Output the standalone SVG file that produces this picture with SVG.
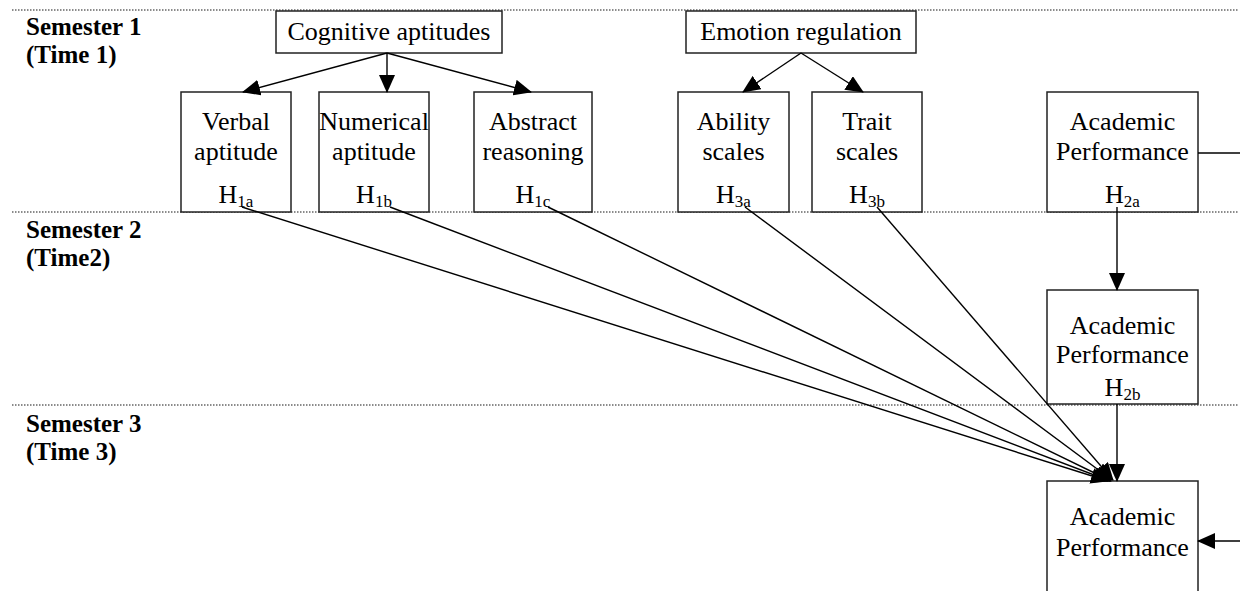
<svg xmlns="http://www.w3.org/2000/svg" width="1240" height="591" viewBox="0 0 1240 591">
<style>
.bg{fill:#fff}
.box{fill:#fff;stroke:#222;stroke-width:1.5}
.t{font-family:"Liberation Serif","Times New Roman",serif;font-size:26px;fill:#000;text-anchor:middle}
.sub{font-size:17px}
.lab{font-family:"Liberation Serif","Times New Roman",serif;font-size:25px;font-weight:bold;fill:#000}
.dot{stroke:#666;stroke-width:1.5;stroke-dasharray:1.5 1.5;fill:none}
.c{stroke:#000;stroke-width:1.4;fill:none}
</style>
<defs>
<marker id="ah" markerUnits="userSpaceOnUse" markerWidth="18" markerHeight="16" viewBox="0 0 18 16" refX="17" refY="8" orient="auto">
<path d="M0,0 L18,8 L0,16 Z" fill="#000"/>
</marker>
</defs>
<rect class="bg" x="0" y="0" width="1240" height="591"/>
<g id="separators">
<line class="dot" x1="12" y1="10" x2="1238" y2="10"/>
<line class="dot" x1="12" y1="212" x2="1238" y2="212"/>
<line class="dot" x1="12" y1="405" x2="1238" y2="405"/>
</g>
<g id="labels">
<text class="lab" x="26" y="35">Semester 1</text>
<text class="lab" x="26" y="63">(Time 1)</text>
<text class="lab" x="26" y="238">Semester 2</text>
<text class="lab" x="26" y="266">(Time2)</text>
<text class="lab" x="26" y="432">Semester 3</text>
<text class="lab" x="26" y="460">(Time 3)</text>
</g>
<g id="cognitive">
<rect class="box" x="276" y="11" width="226" height="42"/>
<text class="t" x="389" y="40">Cognitive aptitudes</text>
</g>
<g id="emotion">
<rect class="box" x="686" y="11" width="230" height="42"/>
<text class="t" x="801" y="40">Emotion regulation</text>
</g>
<g id="verbal">
<rect class="box" x="181" y="92" width="110" height="120"/>
<text class="t" x="236" y="130">Verbal</text>
<text class="t" x="236" y="160">aptitude</text>
<text class="t" x="236" y="203">H<tspan class="sub" dy="4">1a</tspan></text>
</g>
<g id="numerical">
<rect class="box" x="319" y="92" width="110" height="120"/>
<text class="t" x="374" y="130">Numerical</text>
<text class="t" x="374" y="160">aptitude</text>
<text class="t" x="374" y="203">H<tspan class="sub" dy="4">1b</tspan></text>
</g>
<g id="abstract">
<rect class="box" x="474" y="92" width="118" height="120"/>
<text class="t" x="533" y="130">Abstract</text>
<text class="t" x="533" y="160">reasoning</text>
<text class="t" x="533" y="203">H<tspan class="sub" dy="4">1c</tspan></text>
</g>
<g id="ability">
<rect class="box" x="678" y="92" width="111" height="120"/>
<text class="t" x="733.5" y="130">Ability</text>
<text class="t" x="733.5" y="160">scales</text>
<text class="t" x="733.5" y="203">H<tspan class="sub" dy="4">3a</tspan></text>
</g>
<g id="trait">
<rect class="box" x="812" y="92" width="110" height="120"/>
<text class="t" x="867" y="130">Trait</text>
<text class="t" x="867" y="160">scales</text>
<text class="t" x="867" y="203">H<tspan class="sub" dy="4">3b</tspan></text>
</g>
<g id="ap1">
<rect class="box" x="1047" y="92" width="151" height="120"/>
<text class="t" x="1122.5" y="130">Academic</text>
<text class="t" x="1122.5" y="160">Performance</text>
<text class="t" x="1122.5" y="203">H<tspan class="sub" dy="4">2a</tspan></text>
</g>
<g id="ap2">
<rect class="box" x="1047" y="290" width="151" height="114"/>
<text class="t" x="1122.5" y="334">Academic</text>
<text class="t" x="1122.5" y="363">Performance</text>
<text class="t" x="1122.5" y="396">H<tspan class="sub" dy="4">2b</tspan></text>
</g>
<g id="ap3">
<rect class="box" x="1047" y="481" width="151" height="130"/>
<text class="t" x="1122.5" y="525">Academic</text>
<text class="t" x="1122.5" y="556">Performance</text>
</g>
<g id="connectors">
<line class="c" x1="387" y1="53" x2="243" y2="92" marker-end="url(#ah)"/>
<line class="c" x1="387" y1="53" x2="387" y2="92" marker-end="url(#ah)"/>
<line class="c" x1="387" y1="53" x2="531" y2="92" marker-end="url(#ah)"/>
<line class="c" x1="801" y1="53" x2="743" y2="92" marker-end="url(#ah)"/>
<line class="c" x1="801" y1="53" x2="863" y2="92" marker-end="url(#ah)"/>
<line class="c" x1="242" y1="207" x2="1108" y2="481" marker-end="url(#ah)"/>
<line class="c" x1="390" y1="207" x2="1110" y2="481" marker-end="url(#ah)"/>
<line class="c" x1="548" y1="207" x2="1111" y2="481" marker-end="url(#ah)"/>
<line class="c" x1="745" y1="207" x2="1112" y2="480" marker-end="url(#ah)"/>
<line class="c" x1="877" y1="207" x2="1113" y2="480" marker-end="url(#ah)"/>
<line class="c" x1="1117" y1="207" x2="1117" y2="290" marker-end="url(#ah)"/>
<line class="c" x1="1117" y1="404" x2="1117" y2="481" marker-end="url(#ah)"/>
<line class="c" x1="1198" y1="153" x2="1240" y2="153"/>
<line class="c" x1="1240" y1="541" x2="1198" y2="541" marker-end="url(#ah)"/>
</g>
</svg>
